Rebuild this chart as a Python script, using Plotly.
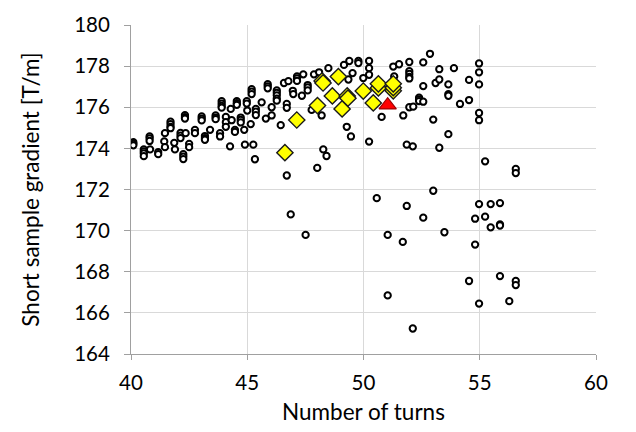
import plotly.graph_objects as go

# Open circles: all conductors (number of turns, short-sample gradient T/m)
circle_pts = [
    (40.10,174.30),(40.10,174.22),(40.10,174.15),
    (40.55,173.95),(40.55,173.85),(40.55,173.75),(40.55,173.62),
    (40.82,173.95),
    (40.80,174.58),(40.80,174.48),(40.80,174.36),
    (41.17,173.82),(41.17,173.72),
    (41.46,174.74),(41.43,174.34),(41.46,174.06),
    (41.70,175.30),(41.70,175.18),(41.70,175.05),(41.70,174.98),
    (41.86,174.27),(41.89,173.95),
    (42.13,174.75),(42.13,174.62),(42.13,174.50),
    (42.32,175.62),(42.32,175.52),(42.32,175.45),
    (42.35,174.74),
    (42.25,173.72),(42.25,173.60),(42.25,173.48),
    (42.50,174.22),(42.50,174.06),
    (42.75,174.90),(42.75,174.74),
    (43.04,175.55),(43.04,175.45),(43.04,175.36),
    (43.18,174.60),(43.18,174.50),(43.18,174.42),
    (43.40,174.90),
    (43.64,175.60),(43.64,175.50),(43.64,175.42),
    (43.83,174.74),(43.83,174.58),
    (43.90,176.30),(43.90,176.18),(43.90,176.06),(43.90,175.98),
    (44.08,175.53),(44.08,175.27),(44.08,175.05),
    (44.29,175.92),(44.33,175.37),(44.26,174.10),
    (44.47,174.90),(44.47,174.80),
    (44.55,176.30),(44.55,176.20),(44.55,176.12),
    (44.72,175.50),(44.72,175.38),(44.72,175.26),
    (44.87,174.90),(44.90,174.18),
    (44.98,176.30),(44.98,176.18),(45.00,175.84),
    (45.15,175.18),
    (45.19,176.88),(45.19,176.76),(45.19,176.64),
    (45.26,174.18),(45.33,173.47),
    (45.37,175.92),(45.37,175.78),(45.37,175.62),
    (45.62,176.24),(45.80,175.45),
    (45.88,177.12),(45.88,177.02),(45.88,176.92),
    (46.05,176.00),(46.05,175.60),
    (46.27,176.82),(46.27,176.70),(46.27,176.58),(46.27,176.42),(46.27,176.32),
    (46.44,175.13),(46.58,177.18),(46.77,177.27),
    (46.70,176.16),(46.70,175.97),
    (46.96,176.80),(46.98,176.64),
    (47.14,177.50),(47.14,177.40),(47.14,177.28),
    (47.41,177.60),(47.35,176.56),
    (47.60,177.08),(47.60,176.96),(47.60,176.82),
    (47.77,175.87),(47.87,177.60),(48.09,177.70),(48.20,175.60),(48.49,177.90),
    (49.16,178.06),(49.39,178.25),(49.53,177.66),(49.35,177.35),(49.28,175.05),(49.46,174.58),
    (49.78,178.25),(49.78,178.15),
    (50.24,178.25),(50.24,177.90),(50.24,177.58),(50.24,174.33),
    (49.99,177.42),(50.78,175.53),
    (51.28,177.98),(51.53,178.09),(51.32,177.50),
    (51.97,178.20),(51.97,177.75),(51.97,177.62),(51.97,177.48),(51.97,177.40),
    (51.71,175.60),(51.97,176.00),(52.14,176.03),
    (52.39,176.47),(52.39,176.38),(52.39,176.30),
    (52.57,178.18),(52.86,178.60),(52.57,177.03),(53.10,177.18),(53.26,177.35),(53.26,177.85),
    (53.00,175.40),(52.57,176.27),(53.89,177.90),(53.65,177.11),
    (53.65,176.64),(53.65,176.56),
    (54.15,176.16),(54.54,176.35),(54.54,177.33),
    (54.97,178.13),(54.97,177.70),(54.97,177.11),(54.97,175.72),(54.97,175.37),
    (53.65,174.69),(51.86,174.18),(52.12,174.10),(53.26,174.03),
    (48.27,173.95),(48.41,173.63),(48.01,173.05),(46.70,172.68),
    (55.23,173.37),(56.55,173.00),(56.55,172.80),
    (53.00,171.94),(50.57,171.58),(51.86,171.20),(54.97,171.29),(55.47,171.29),(55.87,171.34),
    (46.87,170.79),(52.57,170.63),(54.80,170.58),(55.23,170.68),(55.47,170.16),(55.87,170.30),(55.87,170.25),
    (47.51,169.79),(51.04,169.79),(51.69,169.45),(53.48,169.92),(54.80,169.32),
    (54.54,167.55),(55.87,167.79),(56.55,167.55),(56.55,167.35),
    (51.04,166.85),(54.97,166.45),(56.27,166.57),(52.12,165.24),
]
circle_turns = [p[0] for p in circle_pts]
circle_gradient = [p[1] for p in circle_pts]

# Yellow diamonds
diamond_turns = [46.62, 47.13, 48.02, 48.22, 48.26, 48.66, 48.92, 49.08,
                 49.30, 49.33, 49.99, 50.42, 50.64, 50.64, 51.28, 51.28, 51.28]
diamond_gradient = [173.79, 175.38, 176.08, 177.28, 177.18, 176.55, 177.49, 175.92,
                    176.55, 176.44, 176.79, 176.21, 176.94, 177.14, 176.80, 176.95, 177.14]

# Red triangle
triangle_turns = [51.04]
triangle_gradient = [176.10]

x_ticks = [40, 45, 50, 55, 60]
y_ticks = [164, 166, 168, 170, 172, 174, 176, 178, 180]

fig = go.Figure()
fig.add_trace(go.Scatter(
    x=circle_turns, y=circle_gradient, mode="markers",
    marker=dict(symbol="circle", size=6.3, color="white",
                line=dict(color="black", width=2)),
    showlegend=False, hoverinfo="x+y"))
fig.add_trace(go.Scatter(
    x=diamond_turns, y=diamond_gradient, mode="markers",
    marker=dict(symbol="diamond", size=12.5, color="#ffff00",
                line=dict(color="#1a1a1a", width=1.4)),
    showlegend=False, hoverinfo="x+y"))
fig.add_trace(go.Scatter(
    x=triangle_turns, y=triangle_gradient, mode="markers",
    marker=dict(symbol="triangle-up", size=15, color="#ff0000",
                line=dict(color="#a00000", width=1.2)),
    showlegend=False, hoverinfo="x+y"))

tick_font = dict(family="Lato", size=20.5, color="black")
title_font = dict(family="Lato", size=22.5, color="black")
fig.update_layout(
    width=636, height=432,
    margin=dict(l=131, r=40, t=17, b=77),
    paper_bgcolor="white", plot_bgcolor="white",
    font=tick_font,
    xaxis=dict(
        range=[40, 60], tickvals=x_ticks, ticktext=[str(v) for v in x_ticks],
        showgrid=True, gridcolor="#d9d9d9", gridwidth=1,
        showline=True, linecolor="#a0a0a0", linewidth=1,
        ticks="outside", ticklen=5, tickcolor="#a0a0a0",
        zeroline=False, tickfont=tick_font, ticklabelstandoff=5,
        title=dict(text="Number of turns", font=title_font, standoff=11),
    ),
    yaxis=dict(
        range=[164, 180], tickvals=y_ticks, ticktext=[str(v) for v in y_ticks],
        showgrid=True, gridcolor="#d9d9d9", gridwidth=1,
        showline=True, linecolor="#a0a0a0", linewidth=1,
        ticks="outside", ticklen=6, tickcolor="#a0a0a0",
        zeroline=False, tickfont=tick_font, ticklabelstandoff=10,
        title=dict(text="Short sample gradient [T/m]", font=title_font, standoff=28),
    ),
)

fig.write_html("out.html")
